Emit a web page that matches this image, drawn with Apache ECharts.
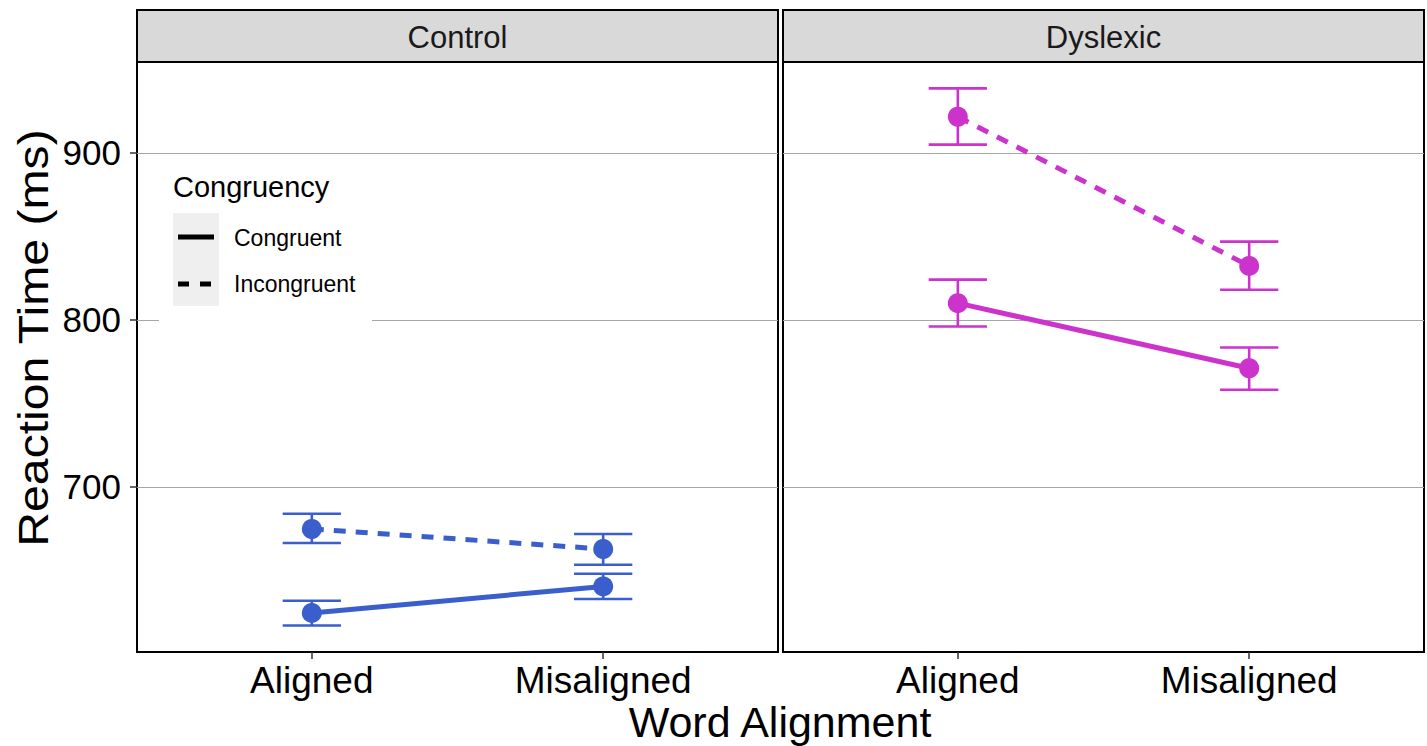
<!DOCTYPE html>
<html>
<head>
<meta charset="utf-8">
<script src="https://cdn.jsdelivr.net/npm/echarts@6/dist/echarts.min.js"></script>
<style>
html,body{margin:0;padding:0;background:#fff;}
#chart{width:1427px;height:746px;}
</style>
</head>
<body>
<div id="chart"></div>
<script>
// ---- data ----
const categories = ['Aligned', 'Misaligned'];
const panels = ['Control', 'Dyslexic'];
const congruencyLevels = ['Congruent', 'Incongruent'];
const yTicks = [700, 800, 900];

// Control group
const controlCongruent = [624.4, 640.3];
const controlCongruentLow = [616.9, 632.8];
const controlCongruentHigh = [631.7, 647.9];
const controlIncongruent = [674.7, 662.7];
const controlIncongruentLow = [666.3, 653.3];
const controlIncongruentHigh = [683.8, 671.7];

// Dyslexic group
const dyslexicCongruent = [810.0, 771.0];
const dyslexicCongruentLow = [796.0, 758.1];
const dyslexicCongruentHigh = [824.1, 783.4];
const dyslexicIncongruent = [921.7, 832.3];
const dyslexicIncongruentLow = [905.0, 818.0];
const dyslexicIncongruentHigh = [938.7, 846.9];

// ---- styling ----
const FONT = "'Liberation Sans', Arial, Helvetica, sans-serif";
const panelColors = ['#3A5FCD', '#CC33CC'];
const panelData = [
  {mean: [controlCongruent, controlIncongruent], low: [controlCongruentLow, controlIncongruentLow], high: [controlCongruentHigh, controlIncongruentHigh]},
  {mean: [dyslexicCongruent, dyslexicIncongruent], low: [dyslexicCongruentLow, dyslexicIncongruentLow], high: [dyslexicCongruentHigh, dyslexicIncongruentHigh]}
];

const W = 1427, H = 746;
const gridTop = 62, gridBottomPx = 652;
const gridBoxes = [{left: 137, right: 778}, {left: 783, right: 1424}];

const chart = echarts.init(document.getElementById('chart'), null, {renderer: 'svg', width: W, height: H});

const grids = gridBoxes.map(g => ({
  left: g.left, top: gridTop, width: g.right - g.left, height: gridBottomPx - gridTop,
  show: true, borderColor: '#000', borderWidth: 2, backgroundColor: '#fff', containLabel: false
}));

const xAxes = gridBoxes.map((g, i) => ({
  type: 'value', gridIndex: i, min: 0.4, max: 2.6,
  axisLine: {show: false},
  splitLine: {show: false},
  axisTick: {show: true, length: 7, lineStyle: {color: '#333', width: 1.5}, customValues: categories.map((c, k) => k + 1)},
  axisLabel: {
    show: true, customValues: categories.map((c, k) => k + 1),
    formatter: v => categories[Math.round(v) - 1] || '',
    fontSize: 37, color: '#000', fontFamily: FONT, margin: 10
  }
}));

const yAxes = gridBoxes.map((g, i) => ({
  type: 'value', gridIndex: i, min: 601, max: 954.5, minInterval: 100, maxInterval: 100,
  axisLine: {show: false},
  axisTick: {show: i === 0, length: 7, lineStyle: {color: '#333', width: 1.5}},
  splitLine: {show: true, showMinLine: false, showMaxLine: false, lineStyle: {color: '#A6A6A6', width: 1}},
  axisLabel: {
    show: i === 0, showMinLabel: false, showMaxLabel: false,
    formatter: v => (yTicks.indexOf(v) >= 0 ? String(v) : ''),
    fontSize: 35, color: '#000', fontFamily: FONT, margin: 16
  }
}));

const series = [];
panelData.forEach((pd, p) => {
  const color = panelColors[p];
  // error bars
  congruencyLevels.forEach((lvl, c) => {
    series.push({
      type: 'custom', name: panels[p] + ' ' + lvl + ' CI',
      xAxisIndex: p, yAxisIndex: p, z: 2,
      data: categories.map((cat, k) => [k + 1, pd.low[c][k], pd.high[c][k]]),
      renderItem: function (params, api) {
        const x = api.value(0), lo = api.value(1), hi = api.value(2);
        const pTop = api.coord([x, hi]);
        const pBot = api.coord([x, lo]);
        const xl = api.coord([x - 0.1, hi])[0];
        const xr = api.coord([x + 0.1, hi])[0];
        const st = {stroke: color, lineWidth: 2.6, fill: null};
        return {
          type: 'group',
          children: [
            {type: 'line', shape: {x1: pTop[0], y1: pTop[1], x2: pBot[0], y2: pBot[1]}, style: st},
            {type: 'line', shape: {x1: xl, y1: pTop[1], x2: xr, y2: pTop[1]}, style: st},
            {type: 'line', shape: {x1: xl, y1: pBot[1], x2: xr, y2: pBot[1]}, style: st}
          ]
        };
      }
    });
  });
  // lines with points
  congruencyLevels.forEach((lvl, c) => {
    series.push({
      type: 'line', name: lvl,
      xAxisIndex: p, yAxisIndex: p, z: 3,
      data: categories.map((cat, k) => [k + 1, pd.mean[c][k]]),
      symbol: 'circle', symbolSize: 20, showSymbol: true,
      itemStyle: {color: color, borderWidth: 0},
      lineStyle: {color: color, width: 5, type: c === 0 ? 'solid' : [12, 10], cap: 'butt'},
      emphasis: {disabled: true},
      animation: false
    });
  });
});

const graphics = [];
// strips
gridBoxes.forEach((g, i) => {
  graphics.push({
    type: 'rect', shape: {x: g.left, y: 10, width: g.right - g.left, height: gridTop - 10},
    style: {fill: '#D9D9D9', stroke: '#000', lineWidth: 2}, z: 10
  });
  graphics.push({
    type: 'text', x: (g.left + g.right) / 2, y: 37,
    style: {text: panels[i], fontSize: 31, fontFamily: FONT, fill: '#1A1A1A', align: 'center', verticalAlign: 'middle'}, z: 11
  });
});
// legend (inside Control panel)
graphics.push({type: 'rect', shape: {x: 159, y: 163, width: 213, height: 159}, style: {fill: '#fff'}, z: 20});
graphics.push({type: 'text', x: 173, y: 187, style: {text: 'Congruency', fontSize: 29, fontFamily: FONT, fill: '#000', verticalAlign: 'middle'}, z: 21});
graphics.push({type: 'rect', shape: {x: 173, y: 213, width: 46, height: 93}, style: {fill: '#EFEFEF'}, z: 21});
graphics.push({type: 'line', shape: {x1: 178, y1: 237, x2: 214, y2: 237}, style: {stroke: '#000', lineWidth: 5}, z: 22});
graphics.push({type: 'line', shape: {x1: 178, y1: 284, x2: 214, y2: 284}, style: {stroke: '#000', lineWidth: 5, lineDash: [11, 11]}, z: 22});
graphics.push({type: 'text', x: 234, y: 238, style: {text: congruencyLevels[0], fontSize: 23, fontFamily: FONT, fill: '#000', verticalAlign: 'middle'}, z: 22});
graphics.push({type: 'text', x: 234, y: 284, style: {text: congruencyLevels[1], fontSize: 23, fontFamily: FONT, fill: '#000', verticalAlign: 'middle'}, z: 22});
// axis titles
graphics.push({type: 'text', x: 780, y: 722, style: {text: 'Word Alignment', fontSize: 43, fontFamily: FONT, fill: '#000', align: 'center', verticalAlign: 'middle'}, z: 10});
graphics.push({type: 'text', x: 33, y: 338, rotation: Math.PI / 2, scaleX: 1.12, style: {text: 'Reaction Time (ms)', fontSize: 43, fontFamily: FONT, fill: '#000', align: 'center', verticalAlign: 'middle'}, z: 10});

chart.setOption({
  animation: false,
  backgroundColor: '#fff',
  grid: grids,
  xAxis: xAxes,
  yAxis: yAxes,
  series: series,
  graphic: graphics
});
</script>
</body>
</html>
